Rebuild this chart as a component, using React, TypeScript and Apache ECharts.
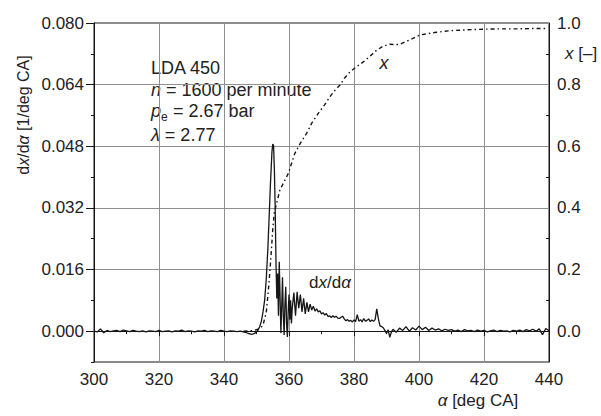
import { useEffect, useRef } from "react";
import * as echarts from "echarts";

const xAxisTicks = [300, 320, 340, 360, 380, 400, 420, 440];
const dxMajorTicks = [0, 0.016, 0.032, 0.048, 0.064, 0.08];
const fracMajorTicks = [0, 0.2, 0.4, 0.6, 0.8, 1.0];
const fracMinorTicks = [0.1, 0.3, 0.5, 0.7, 0.9];

// dx/dα before ignition
const dxPre: [number, number][] = [
  [300, 0.0], [301, -0.0002], [302, 0.0006], [303, -0.0004], [304, 0.0002], [305, -0.0001],
  [306, 0.0001], [307, 0.0002], [308, -0.0001], [309, 0.0003], [310, 0.0001], [311, -0.0001],
  [312, 0.0002], [313, 0.0], [314, -0.0001], [315, 0.0001], [316, -0.0002], [317, 0.0001],
  [318, 0.0], [319, -0.0001], [320, 0.0002], [321, -0.0001], [322, 0.0], [323, 0.0001],
  [324, -0.0002], [325, 0.0001], [326, 0.0], [327, 0.0003], [328, -0.0001], [329, 0.0001],
  [330, 0.0], [331, -0.0002], [332, 0.0001], [333, 0.0], [334, 0.0002], [335, -0.0001],
  [336, 0.0001], [337, 0.0], [338, -0.0001], [339, 0.0002], [340, 0.0], [341, -0.0001],
  [342, 0.0001], [343, 0.0], [344, -0.0001], [345, 0.0], [346, -0.0002],
];

// dx/dα during combustion
const dxBurn: [number, number][] = [
  [346.5, -0.0003], [347, -0.0004], [347.5, -0.0006], [348, -0.0007], [348.5, -0.0008],
  [349, -0.0007], [349.5, -0.0005], [350, -0.0002], [350.5, 0.0003], [351, 0.0012],
  [351.5, 0.0026], [352, 0.005], [352.5, 0.008], [353, 0.0135], [353.5, 0.0215],
  [354, 0.032], [354.25, 0.0375], [354.5, 0.042], [354.75, 0.0465], [355, 0.0486],
  [355.25, 0.0482], [355.5, 0.042], [355.75, 0.032], [356, 0.0175], [356.25, 0.0085],
  [356.5, 0.015], [356.75, 0.004], [357, 0.018], [357.25, 0.009], [357.5, -0.0005],
  [357.75, 0.006], [358, 0.014], [358.25, 0.004], [358.5, -0.001], [358.75, 0.007],
  [359, 0.0115], [359.25, 0.002], [359.5, -0.0015], [359.75, 0.005], [360, 0.0095],
  [360.25, 0.003], [360.5, 0.008], [360.75, 0.002], [361, 0.006], [361.5, 0.01],
  [362, 0.004], [362.5, 0.0102], [363, 0.006], [363.5, 0.0095], [364, 0.005],
  [364.5, 0.0085], [365, 0.0045], [365.5, 0.0075], [366, 0.005], [366.5, 0.007],
  [367, 0.0055], [367.5, 0.0065], [368, 0.0052], [368.5, 0.0058], [369, 0.005],
  [369.5, 0.0053], [370, 0.0045], [370.5, 0.0048], [371, 0.0042], [371.5, 0.0046],
  [372, 0.0038], [372.5, 0.004], [373, 0.0035], [373.5, 0.004], [374, 0.0036],
  [374.5, 0.0039], [375, 0.0034], [375.5, 0.0033], [376, 0.0036], [376.5, 0.0039],
  [377, 0.0032], [377.5, 0.0027], [378, 0.003], [378.5, 0.0026], [379, 0.0028],
  [379.5, 0.0024], [380, 0.0029], [380.5, 0.0025], [381, 0.0043], [381.5, 0.0026],
  [382, 0.003], [382.5, 0.0024], [383, 0.0033], [383.5, 0.0026], [384, 0.0028],
  [384.5, 0.0032], [385, 0.0025], [385.5, 0.0029], [386, 0.0026], [386.5, 0.003],
  [387, 0.0058], [387.5, 0.0032], [388, 0.0014], [388.5, 0.0012], [389, 0.0009],
  [389.5, 0.0002], [390, -0.0006], [390.5, 0.0004], [391, -0.0016], [391.5, -0.0002],
];

// dx/dα after combustion
const dxPost: [number, number][] = [
  [392, 0.0005], [393, -0.0003], [394, 0.0008], [395, 0.0002], [396, 0.0012], [397, 0.0],
  [398, 0.0009], [399, 0.0003], [400, 0.0013], [401, 0.0004], [402, 0.001], [403, 0.0002],
  [404, 0.0008], [405, 0.0003], [406, 0.0006], [407, 0.0001], [408, 0.0005], [409, 0.0002],
  [410, 0.0004], [411, 0.0], [412, 0.0003], [413, -0.0001], [414, 0.0004], [415, 0.0001],
  [416, 0.0002], [417, -0.0001], [418, 0.0003], [419, 0.0], [420, 0.0002], [421, -0.0002],
  [422, 0.0001], [423, 0.0003], [424, -0.0001], [425, 0.0002], [426, 0.0], [427, 0.0001],
  [428, -0.0002], [429, 0.0002], [430, 0.0], [431, 0.0003], [432, -0.0001], [433, 0.0004],
  [434, 0.0001], [435, 0.0005], [436, 0.0], [437, 0.0006], [438, -0.0009], [439, 0.0007],
  [440, 0.0001],
];

// mass fraction burned x
const xBurned: [number, number][] = [
  [346, 0.0], [349, 0.002], [351, 0.008], [352, 0.02], [353, 0.06], [353.8, 0.15],
  [354.5, 0.25], [355, 0.33], [355.5, 0.385], [356.3, 0.42], [357.2, 0.458], [358.5, 0.485],
  [359.8, 0.512], [360.8, 0.545], [361.8, 0.577], [363.5, 0.61], [365.4, 0.642], [367, 0.675],
  [369, 0.707], [371, 0.735], [372.6, 0.761], [374, 0.78], [375.7, 0.799], [377, 0.82],
  [378.8, 0.842], [381, 0.86], [382.9, 0.874], [385, 0.893], [387, 0.912], [389, 0.925],
  [391, 0.931], [393, 0.93], [394.2, 0.931], [396, 0.94], [397.2, 0.945], [399, 0.955],
  [400.3, 0.961], [403, 0.966], [405.4, 0.97], [409.5, 0.975], [415, 0.978], [420, 0.98],
  [425, 0.981], [430, 0.981], [435, 0.982], [439, 0.982],
];

const FONT = "'Liberation Sans', Arial, Helvetica, sans-serif";
const TXT = "#222";
const LINE = "#161616";
const GRID = "#8f8f8f";

export default function App() {
  const ref = useRef<HTMLDivElement>(null);
  useEffect(() => {
    if (!ref.current) return;
    const chart = echarts.init(ref.current, null, { renderer: "svg" });
    const fs = 17;
    const fa = 18;
    const italicA = { fontStyle: "italic" as const, fontFamily: FONT, fontSize: fa, fill: TXT };
    const italic = { fontStyle: "italic" as const, fontFamily: FONT, fontSize: fs, fill: TXT };
    const italicT = { fontStyle: "italic" as const, fontFamily: FONT, fontSize: 16, fill: TXT };
    chart.setOption({
      animation: false,
      backgroundColor: "#fff",
      grid: {
        left: 94, right: 52, top: 23, bottom: 54,
        containLabel: false, outerBoundsMode: "none",
        show: true, borderColor: LINE, borderWidth: 1, backgroundColor: "transparent",
      },
      xAxis: {
        type: "value", min: 300, max: 440, interval: 20,
        axisLine: { show: true, lineStyle: { color: LINE, width: 1 } },
        axisTick: { show: true, length: 5, lineStyle: { color: LINE } },
        minorTick: { show: true, splitNumber: 2, length: 3, lineStyle: { color: LINE } },
        axisLabel: { fontSize: fs, fontFamily: FONT, color: TXT, margin: 9,
          customValues: xAxisTicks },
        splitLine: { show: true, lineStyle: { color: GRID, width: 1 } },
      },
      yAxis: [
        {
          type: "value", position: "left", min: -0.008, max: 0.08, interval: 0.008,
          axisLine: { show: true, lineStyle: { color: LINE, width: 1 } },
          axisTick: { show: true, length: 8, customValues: dxMajorTicks, lineStyle: { color: LINE } },
          axisLabel: { fontSize: fs, fontFamily: FONT, color: TXT, margin: 10,
            customValues: dxMajorTicks, formatter: (v: number) => v.toFixed(3) },
          splitLine: { show: true, lineStyle: { color: GRID, width: 1 } },
        },
        {
          type: "value", position: "left", min: -0.008, max: 0.08, interval: 0.008,
          axisLine: { show: false },
          axisTick: { show: true, length: 3, lineStyle: { color: LINE } },
          axisLabel: { show: false },
          splitLine: { show: false },
        },
        {
          type: "value", position: "right", min: -0.1, max: 1.0, interval: 0.1,
          axisLine: { show: true, lineStyle: { color: LINE, width: 1 } },
          axisTick: { show: true, inside: true, length: 3, customValues: fracMinorTicks, lineStyle: { color: LINE } },
          axisLabel: { fontSize: fs, fontFamily: FONT, color: TXT, margin: 8,
            customValues: fracMajorTicks, formatter: (v: number) => v.toFixed(1) },
          splitLine: { show: false },
        },
      ],
      series: [
        {
          type: "line", yAxisIndex: 0, showSymbol: false, symbol: "none",
          data: [...dxPre, ...dxBurn, ...dxPost],
          lineStyle: { color: LINE, width: 1.3 },
          z: 3,
        },
        {
          type: "line", yAxisIndex: 2, showSymbol: false, symbol: "none",
          data: xBurned, smooth: false,
          lineStyle: { color: LINE, width: 1.4, type: [4, 3, 1.5, 3] },
          z: 3,
        },
      ],
      graphic: [
        { type: "text", x: 151, y: 68, style: { text: "LDA 450", fontFamily: FONT, fontSize: fa, fill: TXT, verticalAlign: "middle", align: "left" } },
        { type: "text", x: 151, y: 90, style: { text: "{i|n} = 1600 per minute", fontFamily: FONT, fontSize: fa, fill: TXT, verticalAlign: "middle", align: "left", rich: { i: italicA } } },
        { type: "text", x: 151, y: 111, style: { text: "p", fontFamily: FONT, fontSize: fa, fontStyle: "italic", fill: TXT, verticalAlign: "middle", align: "left" } },
        { type: "text", x: 161, y: 117, style: { text: "e", fontFamily: FONT, fontSize: 12, fill: TXT, verticalAlign: "middle", align: "left" } },
        { type: "text", x: 168, y: 111, style: { text: " = 2.67 bar", fontFamily: FONT, fontSize: fa, fill: TXT, verticalAlign: "middle", align: "left" } },
        { type: "text", x: 151, y: 135, style: { text: "{i|λ} = 2.77", fontFamily: FONT, fontSize: fa, fill: TXT, verticalAlign: "middle", align: "left", rich: { i: italicA } } },
        { type: "text", x: 384, y: 63, style: { text: "x", fontFamily: FONT, fontSize: fa, fontStyle: "italic", fill: TXT, verticalAlign: "middle", align: "center" } },
        { type: "text", x: 330, y: 282, style: { text: "d{i|x}/d{i|α}", fontFamily: FONT, fontSize: fs, fill: TXT, verticalAlign: "middle", align: "center", rich: { i: italic } } },
        { type: "text", x: 565, y: 53, style: { text: "{i|x} [–]", fontFamily: FONT, fontSize: fs, fill: TXT, verticalAlign: "middle", align: "left", rich: { i: italic } } },
        { type: "text", x: 478, y: 400, style: { text: "{i|α} [deg CA]", fontFamily: FONT, fontSize: fs, fill: TXT, verticalAlign: "middle", align: "center", rich: { i: italic } } },
        { type: "text", x: 23, y: 115, rotation: Math.PI / 2, style: { text: "d{i|x}/d{i|α} [1/deg CA]", fontFamily: FONT, fontSize: 16, fill: TXT, verticalAlign: "middle", align: "center", rich: { i: italicT } } },
      ],
    });
    return () => chart.dispose();
  }, []);
  return <div ref={ref} style={{ position: "fixed", left: 0, top: 0, width: 601, height: 416 }} />;
}
